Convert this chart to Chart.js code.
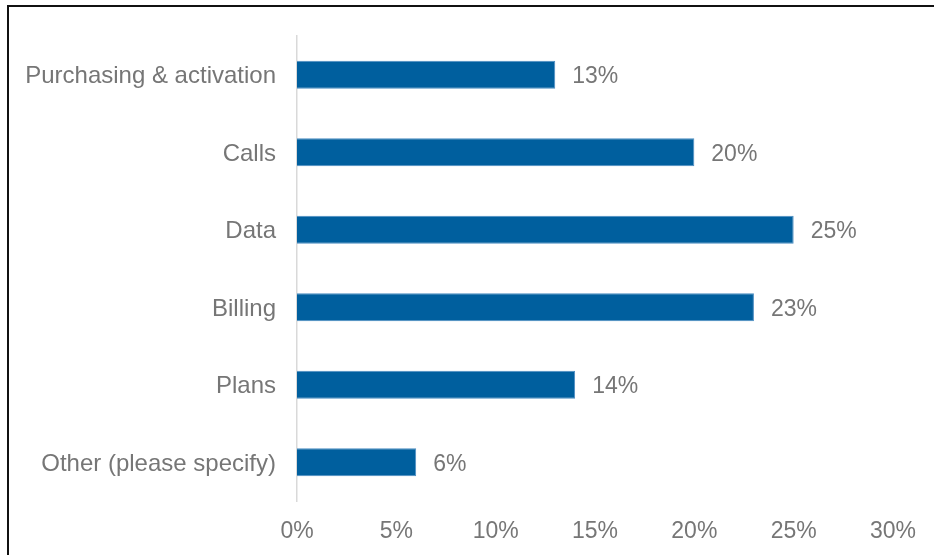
<!DOCTYPE html>
<html>
<head>
<meta charset="utf-8">
<script src="https://cdn.jsdelivr.net/npm/chart.js@4/dist/chart.umd.min.js"></script>
<style>
  html, body { margin: 0; padding: 0; background: #fff; }
  #wrap { position: relative; width: 934px; height: 555px; overflow: hidden; }
  #frame { position: absolute; left: 7px; top: 5px; width: 1000px; height: 700px;
           border-left: 2px solid #111; border-top: 2px solid #111; pointer-events: none; }
  canvas { position: absolute; left: 0; top: 0; }
</style>
</head>
<body>
<div id="wrap">
  <canvas id="c" width="934" height="555"></canvas>
  <div id="frame"></div>
</div>
<script>
// Topics of customer enquiries, share of responses (%)
const categories = [
  'Purchasing & activation',
  'Calls',
  'Data',
  'Billing',
  'Plans',
  'Other (please specify)'
];
const shares = [13, 20, 25, 23, 14, 6];
const tickValues = [0, 5, 10, 15, 20, 25, 30];

const TEXT = '#767676';
const FAMILY = '"Liberation Sans", Arial, sans-serif';
const FONT = { family: FAMILY, size: 23 };
const CAT_FONT = { family: FAMILY, size: 24 };

// Writes "nn%" just past the end of each bar
const valueLabels = {
  id: 'valueLabels',
  afterDatasetsDraw(chart) {
    const ctx = chart.ctx;
    const meta = chart.getDatasetMeta(0);
    ctx.save();
    ctx.fillStyle = TEXT;
    ctx.font = FONT.size + 'px ' + FONT.family;
    ctx.textAlign = 'left';
    ctx.textBaseline = 'middle';
    meta.data.forEach((bar, i) => {
      ctx.fillText(shares[i] + '%', bar.x + 17, bar.y + 2);
    });
    ctx.restore();
  }
};

new Chart(document.getElementById('c'), {
  type: 'bar',
  data: {
    labels: categories,
    datasets: [{
      data: shares,
      backgroundColor: '#005f9e',
      borderColor: '#4a8cc2',
      borderWidth: 1,
      borderSkipped: 'start',
      barPercentage: 0.36,
      categoryPercentage: 1
    }]
  },
  options: {
    indexAxis: 'y',
    responsive: false,
    animation: false,
    events: [],
    layout: { padding: { top: 36, right: 41, left: 10, bottom: 0 } },
    plugins: { legend: { display: false }, tooltip: { enabled: false } },
    scales: {
      x: {
        min: 0,
        max: 30,
        afterBuildTicks(axis) { axis.ticks = tickValues.map(v => ({ value: v })); },
        afterFit(axis) { axis.height = 54; },
        grid: { display: false, drawTicks: false },
        border: { display: false },
        ticks: {
          color: TEXT,
          font: FONT,
          padding: 17,
          maxRotation: 0,
          callback: v => v + '%'
        }
      },
      y: {
        afterFit(axis) { axis.width = 287; },
        grid: { display: false, drawTicks: false },
        border: { display: true, color: '#d9d9d9', width: 1.5 },
        ticks: { color: TEXT, font: CAT_FONT, padding: 21, labelOffset: 2 }
      }
    }
  },
  plugins: [valueLabels]
});
</script>
</body>
</html>
